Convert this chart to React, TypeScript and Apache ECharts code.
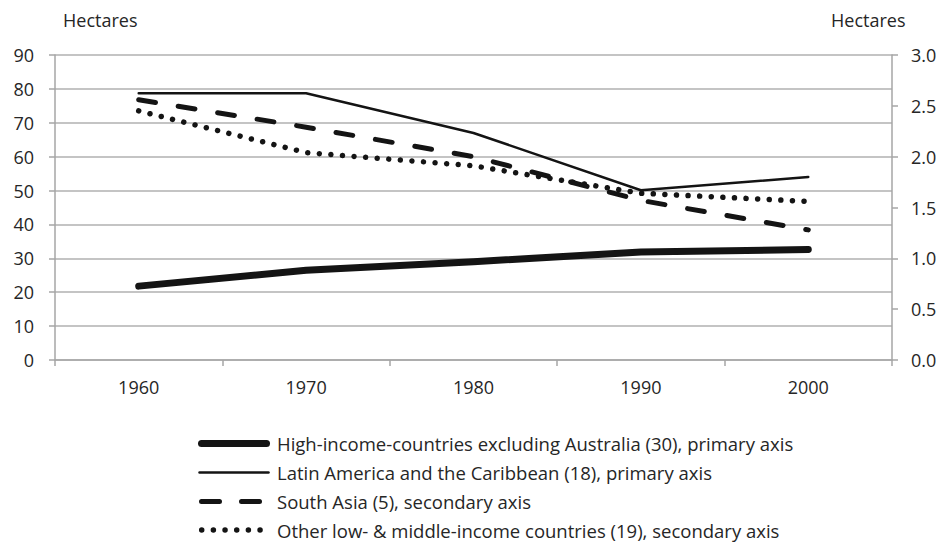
import React, { useEffect, useRef } from "react";
import * as echarts from "echarts";

const categories = ["1960", "1970", "1980", "1990", "2000"];
const highIncome = [21.8, 26.5, 29.0, 31.9, 32.6];
const latinAmerica = [78.7, 78.7, 67.0, 50.1, 54.0];
const southAsia = [2.56, 2.29, 2.0, 1.57, 1.28];
const otherLowMiddle = [2.45, 2.04, 1.91, 1.64, 1.56];
const leftTicks = { min: 0, max: 90, interval: 10 };
const rightTicks = { min: 0, max: 3, interval: 0.5 };
const seriesNames = [
  "High-income-countries excluding Australia (30), primary axis",
  "Latin America and the Caribbean (18), primary axis",
  "South Asia (5), secondary axis",
  "Other low- & middle-income countries (19), secondary axis",
];

const FONT = "'Open Sans', sans-serif";
const TEXT = "#262626";
const GRID = "#b0b0b0";
const AXIS = "#a6a6a6";
const INK = "#141414";

type LS = { width: number; dash?: number[] };
const styles: LS[] = [
  { width: 7 },
  { width: 2.5 },
  { width: 5, dash: [17, 23] },
  { width: 5.5, dash: [0.01, 11.6] },
];

// legend layout (graphic)
const LEG_ROWS = [443.5, 472.5, 501.5, 530];
const legendSwatches = [
  { x1: 201.5, x2: 266.5, dash: undefined as number[] | undefined, w: 7 },
  { x1: 199.5, x2: 268.5, dash: undefined, w: 2.5 },
  { x1: 201.5, x2: 259.5, dash: [18, 22], w: 5 },
  { x1: 201.7, x2: 260.1, dash: [0.01, 11.66], w: 5.5 },
];

export default function App() {
  const ref = useRef<HTMLDivElement>(null);
  useEffect(() => {
    if (!ref.current) return;
    const chart = echarts.init(ref.current, null, { renderer: "svg" });
    const legendGraphics: any[] = [];
    seriesNames.forEach((name, i) => {
      const s = legendSwatches[i];
      legendGraphics.push({
        type: "line",
        shape: { x1: s.x1, y1: LEG_ROWS[i], x2: s.x2, y2: LEG_ROWS[i] },
        style: {
          stroke: INK,
          lineWidth: s.w,
          lineCap: "round",
          lineDash: s.dash || null,
        },
      });
      legendGraphics.push({
        type: "text",
        x: 277,
        y: LEG_ROWS[i],
        style: {
          text: name,
          font: `18.5px ${FONT}`,
          fill: TEXT,
          verticalAlign: "middle",
          align: "left",
        },
      });
    });
    chart.setOption({
      animation: false,
      backgroundColor: "#ffffff",
      textStyle: { fontFamily: FONT, color: TEXT },
      grid: { left: 55, right: 50, top: 55, bottom: 182, containLabel: false },
      graphic: [
        {
          type: "text",
          x: 63,
          y: 20,
          style: { text: "Hectares", font: `18px ${FONT}`, fill: TEXT, verticalAlign: "middle" },
        },
        {
          type: "text",
          x: 831,
          y: 20,
          style: { text: "Hectares", font: `18px ${FONT}`, fill: TEXT, verticalAlign: "middle" },
        },
        ...legendGraphics,
      ],
      xAxis: {
        type: "category",
        data: categories,
        boundaryGap: true,
        axisLine: { lineStyle: { color: AXIS, width: 1.5 } },
        axisTick: { show: true, interval: 0, length: 6, lineStyle: { color: AXIS, width: 1.5 } },
        axisLabel: { margin: 18, fontSize: 18, fontFamily: FONT, color: TEXT },
        splitLine: { show: false },
      },
      yAxis: [
        {
          type: "value",
          position: "left",
          ...leftTicks,
          axisLine: { show: true, lineStyle: { color: AXIS, width: 1.5 } },
          axisTick: { show: true, length: 6, lineStyle: { color: AXIS, width: 1.5 } },
          axisLabel: { margin: 21, fontSize: 18, fontFamily: FONT, color: TEXT },
          splitLine: { show: true, lineStyle: { color: GRID, width: 1.5 } },
        },
        {
          type: "value",
          position: "right",
          ...rightTicks,
          axisLine: { show: true, lineStyle: { color: AXIS, width: 1.5 } },
          axisTick: { show: true, length: 6, lineStyle: { color: AXIS, width: 1.5 } },
          axisLabel: {
            margin: 19,
            fontSize: 18,
            fontFamily: FONT,
            color: TEXT,
            formatter: (v: number) => v.toFixed(1),
          },
          splitLine: { show: false },
        },
      ],
      series: [
        {
          name: seriesNames[0],
          type: "line",
          yAxisIndex: 0,
          data: highIncome,
          symbol: "none",
          lineStyle: { color: INK, width: styles[0].width, cap: "round", join: "round" },
          z: 5,
        },
        {
          name: seriesNames[1],
          type: "line",
          yAxisIndex: 0,
          data: latinAmerica,
          symbol: "none",
          lineStyle: { color: INK, width: styles[1].width, cap: "round", join: "round" },
          z: 4,
        },
        {
          name: seriesNames[2],
          type: "line",
          yAxisIndex: 1,
          data: southAsia,
          symbol: "none",
          lineStyle: { color: INK, width: styles[2].width, type: styles[2].dash, cap: "round", join: "round" },
          z: 3,
        },
        {
          name: seriesNames[3],
          type: "line",
          yAxisIndex: 1,
          data: otherLowMiddle,
          symbol: "none",
          lineStyle: { color: INK, width: styles[3].width, type: styles[3].dash, cap: "round", join: "round" },
          z: 2,
        },
      ],
    });
    return () => chart.dispose();
  }, []);
  return (
    <div
      ref={ref}
      style={{ position: "fixed", left: 0, top: 0, width: 942, height: 542, overflow: "hidden" }}
    />
  );
}
